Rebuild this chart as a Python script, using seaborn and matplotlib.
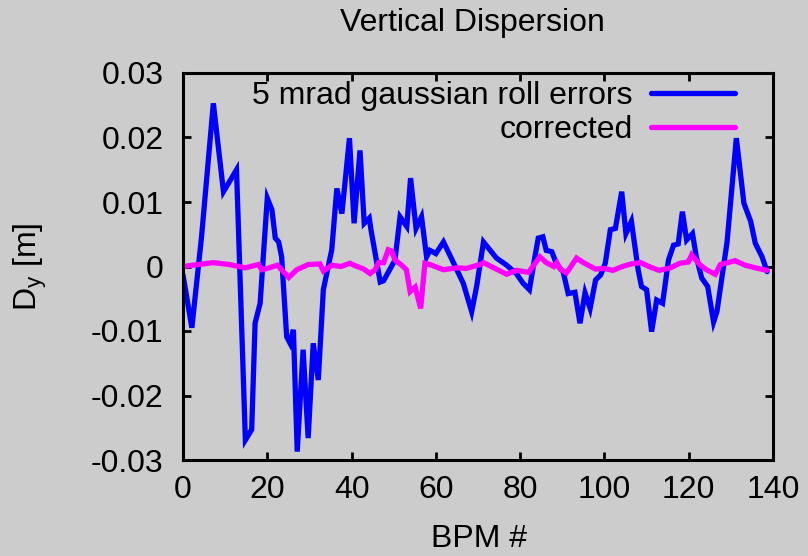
import numpy as np
import pandas as pd
import matplotlib
matplotlib.use("Agg")
import matplotlib.pyplot as plt
import seaborn as sns
from matplotlib.lines import Line2D

# ---- data ----
bpm_roll = [0, 2.1, 4.4, 7.2, 9.6, 12.7, 14.8, 16.3, 17.1, 18.3, 20.0, 21.1, 21.9, 22.7,
            23.4, 24.6, 25.4, 26.2, 27.1, 28.5, 29.7, 30.9, 32.1, 33.3, 35.3, 36.5, 37.7,
            39.5, 40.6, 42.0, 43.0, 44.2, 44.6, 46.8, 47.6, 50.3, 51.5, 53.1, 54.0, 55.3,
            56.6, 57.8, 58.6, 60.0, 61.8, 64.1, 66.5, 68.5, 69.7, 71.3, 72.9, 74.4, 76.8,
            79.1, 80.7, 82.2, 83.5, 84.3, 85.4, 86.2, 87.5, 88.7, 90.2, 91.4, 93.0, 94.2,
            95.4, 96.6, 97.9, 99.1, 100.2, 101.4, 102.6, 104.1, 105.1, 106.4, 108.0, 108.8,
            110.0, 111.2, 112.4, 113.8, 115.2, 116.4, 117.5, 118.5, 119.5, 120.9, 121.8,
            123.1, 124.5, 125.9, 126.7, 127.9, 129.1, 131.3, 133.1, 134.7, 135.8, 137.4, 138.6]
dy_roll = [-0.0013, -0.0095, 0.0046, 0.0253, 0.0116, 0.0150, -0.0269, -0.0253, -0.0088,
           -0.0057, 0.0106, 0.0088, 0.0044, 0.0038, 0.0015, -0.0109, -0.0119, -0.0098,
           -0.0287, -0.0129, -0.0266, -0.0119, -0.0176, -0.0036, 0.0026, 0.0121, 0.0082,
           0.0199, 0.0067, 0.0180, 0.0067, 0.0075, 0.0057, -0.0024, -0.0022, 0.0010,
           0.0077, 0.0062, 0.0137, 0.0059, 0.0077, 0.0015, 0.0025, 0.0020, 0.0038, 0.0007,
           -0.0026, -0.0070, -0.0030, 0.0038, 0.0025, 0.0013, 0.0002, -0.0011, -0.0026,
           -0.0036, 0.0015, 0.0044, 0.0046, 0.0025, 0.0023, 0.0003, -0.0008, -0.0042,
           -0.0040, -0.0088, -0.0041, -0.0065, -0.0021, -0.0013, 0.0005, 0.0057, 0.0059,
           0.0116, 0.0051, 0.0070, -0.0005, -0.0031, -0.0036, -0.0101, -0.0052, -0.0057,
           0.0010, 0.0033, 0.0035, 0.0085, 0.0041, 0.0051, 0.0015, -0.0018, -0.0031,
           -0.0086, -0.0070, -0.0016, 0.0038, 0.0199, 0.0098, 0.0070, 0.0036, 0.0015, -0.0008]

bpm_corr = [0, 7.2, 11.0, 14.8, 17.9, 18.7, 20.0, 22.4, 25.1, 27.0, 29.7, 32.5, 33.3, 35.3,
            37.5, 39.6, 40.6, 42.9, 44.4, 45.6, 46.4, 47.6, 48.7, 49.5, 50.3, 51.9, 53.0,
            53.9, 55.1, 56.4, 57.4, 58.6, 61.8, 65.0, 67.2, 70.5, 71.3, 76.8, 79.1, 82.0,
            84.7, 86.2, 88.0, 88.7, 89.5, 91.0, 93.4, 95.0, 97.9, 100.0, 102.0, 104.3, 106.4,
            108.6, 110.9, 113.0, 115.7, 117.9, 119.9, 120.7, 122.6, 124.2, 126.3, 127.5,
            131.0, 133.4, 135.8, 138.6]
dy_corr = [0.0, 0.0006, 0.0003, -0.0002, 0.0003, -0.0005, -0.0003, 0.0002, -0.0017, -0.0005,
           0.0003, 0.0004, -0.0007, 0.0002, 0.0, 0.0005, 0.0002, -0.0004, -0.0011, -0.0005,
           0.0006, 0.0006, 0.0026, 0.0024, 0.0010, 0.0002, -0.0005, -0.0039, -0.0032,
           -0.0065, 0.0005, 0.0003, -0.0005, -0.0002, -0.0003, 0.0003, 0.0006, -0.0012,
           -0.0006, -0.0009, 0.0015, 0.0006, 0.0, 0.0006, -0.0004, -0.0010, 0.0013, 0.0006,
           -0.0004, -0.0003, -0.0006, 0.0, 0.0004, 0.0006, -0.0001, -0.0006, -0.0002, 0.0005,
           0.0007, 0.0018, 0.0003, -0.0005, -0.0012, 0.0003, 0.0009, 0.0002, -0.0002, -0.0006]

labels = ["5 mrad gaussian roll errors", "corrected"]
colors = ["#0000ff", "#ff00ff"]
xticks = [0, 20, 40, 60, 80, 100, 120, 140]
yticks = [-0.03, -0.02, -0.01, 0, 0.01, 0.02, 0.03]
ytick_labels = ["-0.03", "-0.02", "-0.01", "0", "0.01", "0.02", "0.03"]

df = pd.concat([
    pd.DataFrame({"BPM": bpm_roll, "Dy": dy_roll, "series": labels[0]}),
    pd.DataFrame({"BPM": bpm_corr, "Dy": dy_corr, "series": labels[1]}),
], ignore_index=True)

# ---- style ----
bg = "#cccccc"
sns.set_style("ticks", {"axes.facecolor": bg, "figure.facecolor": bg,
                        "xtick.direction": "in", "ytick.direction": "in",
                        "axes.edgecolor": "black", "text.color": "black",
                        "axes.labelcolor": "black", "xtick.color": "black",
                        "ytick.color": "black"})
plt.rcParams["font.family"] = ["Liberation Sans", "DejaVu Sans"]
fs = 23

fig = plt.figure(figsize=(8.08, 5.56), dpi=100)
fig.patch.set_facecolor(bg)
ax = fig.add_axes([183 / 808, 1 - 460 / 556, 590 / 808, 387 / 556])
ax.set_facecolor(bg)

sns.lineplot(data=df, x="BPM", y="Dy", hue="series", palette=dict(zip(labels, colors)),
             estimator=None, sort=False, linewidth=3.8, ax=ax, legend=False)

for ln in ax.get_lines():
    ln.set_solid_joinstyle("miter")

ax.set_xlim(0, 140)
ax.set_ylim(-0.03, 0.03)
ax.set_xticks(xticks)
ax.set_xticklabels([str(t) for t in xticks])
ax.set_yticks(yticks)
ax.set_yticklabels(ytick_labels)
ax.tick_params(axis="both", which="both", direction="in", length=6, width=2,
               top=True, right=True, labelsize=fs, color="black", labelcolor="black")
ax.tick_params(axis="x", pad=11)
ax.tick_params(axis="y", pad=14)
for sp in ax.spines.values():
    sp.set_visible(True)
    sp.set_linewidth(2.2)
    sp.set_color("black")

ax.set_xlabel("BPM #", fontsize=fs, va="center", color="black")
ax.xaxis.set_label_coords((479 - 183) / 590, (460 - 539) / 387)
ax.set_ylabel(r"D$_\mathregular{y}$ [m]", fontsize=fs, va="center", color="black")
ax.yaxis.set_label_coords((30 - 183) / 590, 0.5)

fig.text(472 / 808, 1 - 23 / 556, "Vertical Dispersion", fontsize=fs,
         ha="center", va="center", color="black")

fs_px = fs * 100 / 72
handles = [Line2D([0], [0], color=c, lw=3.8) for c in colors]
leg = ax.legend(handles, labels, loc="upper right",
                bbox_to_anchor=((735 - 183) / 590, 0.979),
                borderaxespad=0, borderpad=0, handlelength=84 / fs_px,
                handletextpad=18 / fs_px, labelspacing=0.13,
                markerfirst=False, frameon=False, fontsize=fs)
for t in leg.get_texts():
    t.set_ha("right")
    t.set_color("black")
leg._legend_box.align = "right"

fig.savefig("out.png", dpi=100, facecolor=bg)
